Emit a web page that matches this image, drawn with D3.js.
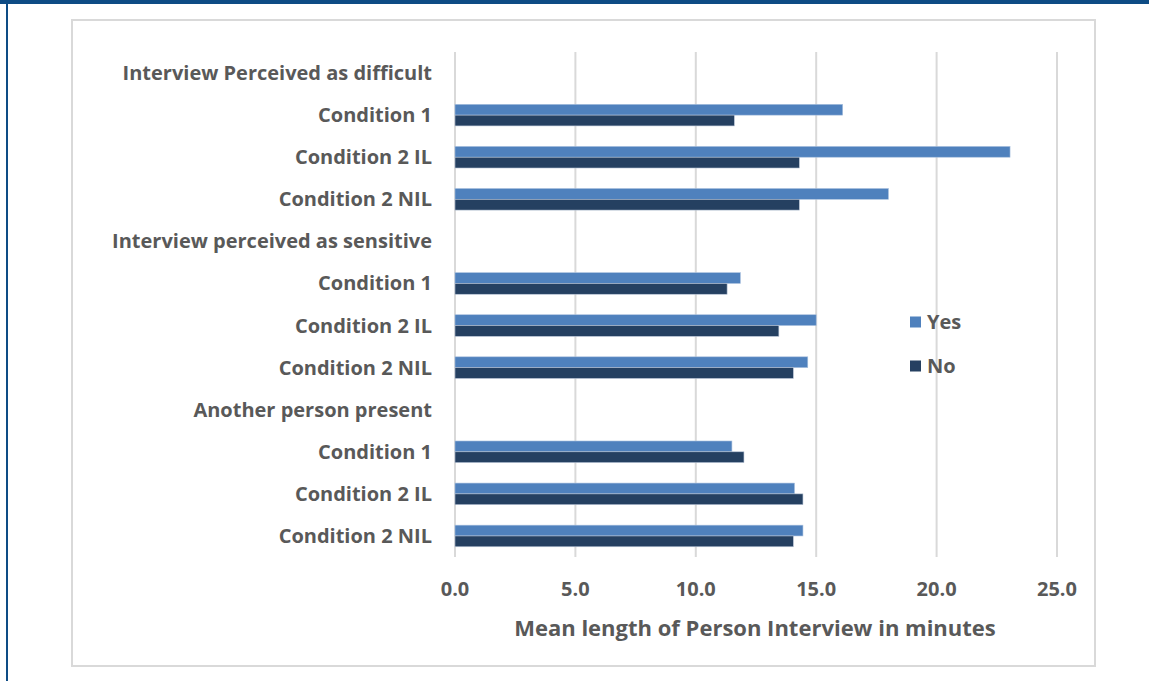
<!DOCTYPE html>
<html><head><meta charset="utf-8">
<script src="https://cdn.jsdelivr.net/npm/d3@7"></script>
<style>
html,body{margin:0;padding:0;background:#fff;}
svg text{font-family:"Open Sans","Lato",sans-serif;fill:#595959;}
</style></head>
<body>
<script>
const categories = [
  "Interview Perceived as difficult","Condition 1","Condition 2 IL","Condition 2 NIL",
  "Interview perceived as sensitive","Condition 1","Condition 2 IL","Condition 2 NIL",
  "Another person present","Condition 1","Condition 2 IL","Condition 2 NIL"
];
const yesValues = [null,16.1,23.05,18.0,null,11.85,15.0,14.65,null,11.5,14.1,14.45];
const noValues  = [null,11.6,14.3,14.3,null,11.3,13.45,14.05,null,12.0,14.45,14.05];
const seriesNames = ["Yes","No"];
const xTicks = [0,5,10,15,20,25];
const axisTitle = "Mean length of Person Interview in minutes";

const W=1149,H=681;
const svg=d3.select("body").append("svg").attr("width",W).attr("height",H);
// outer border
svg.append("rect").attr("x",0).attr("y",0).attr("width",W).attr("height",4).attr("fill","#0e4c85");
svg.append("rect").attr("x",6).attr("y",0).attr("width",2).attr("height",H).attr("fill","#0e4c85");
// chart frame
svg.append("rect").attr("x",72).attr("y",20).attr("width",1023).attr("height",646)
  .attr("fill","#fff").attr("stroke","#d9d9d9").attr("stroke-width",2);

const x=d3.scaleLinear().domain([0,25]).range([455,1057]);
const y=d3.scaleBand().domain(d3.range(categories.length)).range([52,557]);
const colors={Yes:"#4f81bd",No:"#254061"};

// gridlines
svg.append("g").selectAll("line").data(xTicks).join("line")
  .attr("x1",d=>x(d)).attr("x2",d=>x(d)).attr("y1",52).attr("y2",557)
  .attr("stroke","#d9d9d9").attr("stroke-width",2);

const barH=10.8;
const rows=categories.map((c,i)=>({i,yes:yesValues[i],no:noValues[i]}));
const g=svg.append("g");
rows.forEach(r=>{
  const cy=y(r.i)+y.bandwidth()/2;
  if(r.yes!=null){
    g.append("rect").attr("x",x(0)).attr("y",cy-barH).attr("width",x(r.yes)-x(0)).attr("height",barH)
     .attr("fill",colors.Yes).attr("stroke","#a9c0de").attr("stroke-width",0.6);
  }
  if(r.no!=null){
    g.append("rect").attr("x",x(0)).attr("y",cy).attr("width",x(r.no)-x(0)).attr("height",barH)
     .attr("fill",colors.No).attr("stroke","#b8c4d6").attr("stroke-width",0.6);
  }
});

// category labels
svg.append("g").selectAll("text").data(categories).join("text")
  .attr("x",432).attr("y",(d,i)=>y(i)+y.bandwidth()/2).attr("dy","0.35em")
  .attr("text-anchor","end").attr("font-size",20).attr("font-weight","bold").text(d=>d);

// x tick labels
svg.append("g").selectAll("text").data(xTicks).join("text")
  .attr("x",d=>x(d)).attr("y",589).attr("dy","0.35em").attr("text-anchor","middle")
  .attr("font-size",20).attr("font-weight","bold").text(d=>d3.format(".1f")(d));

// axis title
svg.append("text").attr("x",755).attr("y",628).attr("dy","0.35em").attr("text-anchor","middle")
  .attr("font-size",22).attr("font-weight","bold").text(axisTitle);

// legend
const leg=svg.append("g");
seriesNames.forEach((s,k)=>{
  const ly=322+k*44;
  leg.append("rect").attr("x",910).attr("y",ly-5.5).attr("width",11).attr("height",11).attr("fill",colors[s]);
  leg.append("text").attr("x",927).attr("y",ly).attr("dy","0.35em").attr("font-size",20)
    .attr("font-weight","bold").text(s);
});
</script>
</body></html>
